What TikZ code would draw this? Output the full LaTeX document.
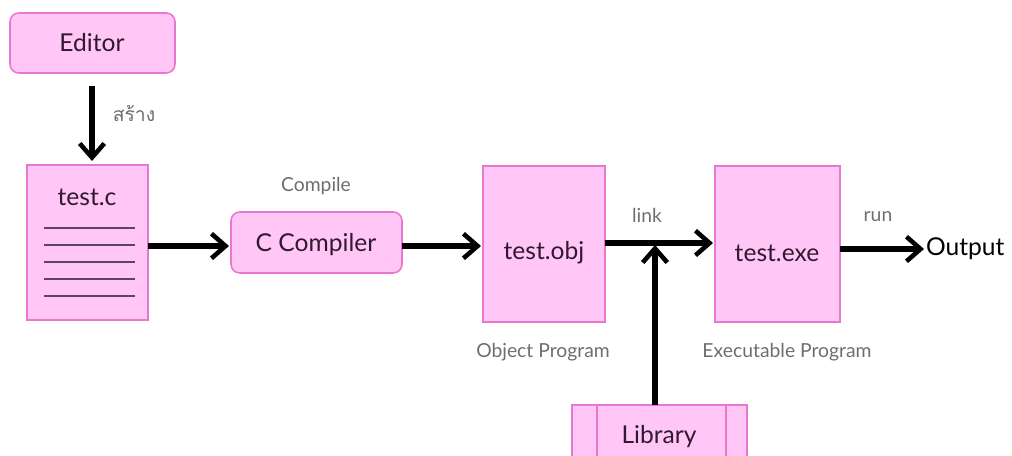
\documentclass[tikz,border=0pt]{standalone}
\usepackage{fontspec}
\setmainfont{Lato}
\newfontfamily\thaifont[Script=Thai]{Loma}
\usetikzlibrary{arrows.meta}
\definecolor{boxfill}{RGB}{255,198,246}
\definecolor{boxedge}{RGB}{232,120,205}
\definecolor{boxtext}{RGB}{50,25,50}
\definecolor{lbltext}{RGB}{110,110,110}
\tikzset{
  box/.style={draw=boxedge, fill=boxfill, line width=0.9pt},
  rbox/.style={box, rounded corners=5pt},
  btext/.style={text=boxtext, font=\fontsize{14}{16}\selectfont},
  lbl/.style={text=lbltext, font=\fontsize{11}{13}\selectfont},
  arr/.style={line width=3pt, -{Straight Barb[length=8pt,width=14pt,line width=2.6pt]}},
  docline/.style={draw=boxtext!80, line width=1.1pt}
}
\begin{document}
\begin{tikzpicture}[x=0.02cm,y=-0.02cm]
\useasboundingbox (0,0) rectangle (1012,456);
% nodes
\draw[rbox] (10,13) rectangle (175,73);
\node[btext] (editor) at (92,43) {Editor};
\coordinate (edbot) at (92,86);
\draw[box] (27,165) rectangle (148,320);
\node[btext] (testc) at (87,197) {test.c};
\coordinate (tctop) at (92,161);
\coordinate (tcright) at (148,246);
\foreach \yy in {228,245,262,279,296}
  \draw[docline] (44,\yy) -- (135,\yy);
\draw[rbox] (231,212) rectangle (402,273);
\node[btext] (cc) at (316,245) {C Compiler};
\coordinate (ccleft) at (229,246);
\coordinate (ccright) at (402,246);
\draw[box] (483,166) rectangle (605,322);
\node[btext] (obj) at (544,253) {test.obj};
\coordinate (objleft) at (481,246);
\coordinate (objright) at (605,243);
\draw[box] (715,166) rectangle (840,322);
\node[btext] (exe) at (777,253) {test.exe};
\coordinate (exeleft) at (713,243);
\coordinate (exeright) at (840,249);
\coordinate (linkpt) at (655,245);
\draw[box] (572,405) rectangle (747,470);
\draw[boxedge, line width=0.9pt] (597,405) -- (597,470) (726,405) -- (726,470);
\node[btext] (lib) at (659,437) {Library};
\coordinate (libtop) at (655,405);
\node[btext, text=black, anchor=west, inner sep=1pt] (out) at (924,249) {Output};
% labels
\node[lbl] (sr) at (134,113) {\thaifont สร้าง};
\node[lbl] (comp) at (316,186) {Compile};
\node[lbl] (link) at (647,215) {link};
\node[lbl] (run) at (878,217) {run};
\node[lbl] (objp) at (543,352) {Object Program};
\node[lbl] (exep) at (787,352) {Executable Program};
% arrows
\draw[arr] (edbot) -- (tctop);
\draw[arr] (tcright) -- (ccleft);
\draw[arr] (ccright) -- (objleft);
\draw[arr] (objright) -- (exeleft);
\draw[arr] (libtop) -- (linkpt);
\draw[arr] (exeright) -- (out.west);
\end{tikzpicture}
\end{document}
